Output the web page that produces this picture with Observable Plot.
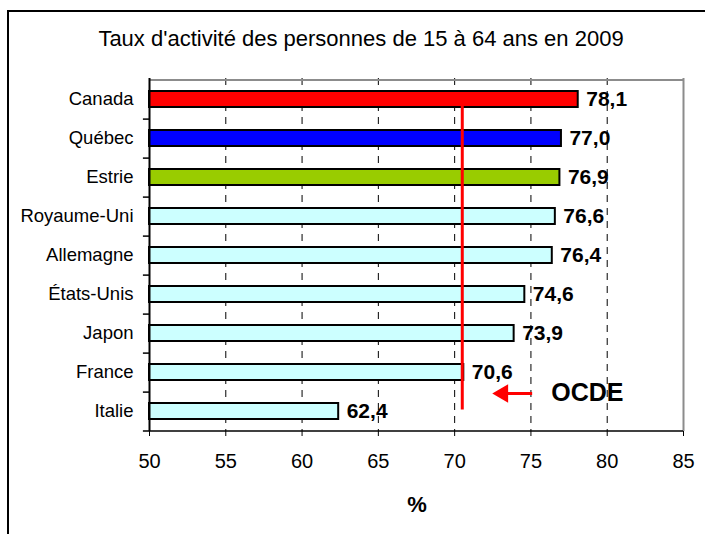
<!DOCTYPE html>
<html><head><meta charset="utf-8">
<script src="https://cdn.jsdelivr.net/npm/d3@7"></script>
<script src="https://cdn.jsdelivr.net/npm/@observablehq/plot@0.6"></script>
<style>
body{margin:0;background:#fff;font-family:"Liberation Sans",Arial,sans-serif;}
#wrap{position:relative;width:705px;height:534px;overflow:hidden;background:#fff;}
#frame{position:absolute;left:7px;top:10px;width:800px;height:700px;border-left:2px solid #000;border-top:2px solid #000;}
#title{position:absolute;left:0;width:722px;top:28px;text-align:center;font-size:22px;line-height:1;color:#000;}
#xlabel{position:absolute;left:367px;width:100px;top:494px;text-align:center;font-size:22px;font-weight:bold;line-height:1;}
#chart{position:absolute;left:0;top:0;}
#chart svg{background:transparent !important;}
[aria-label^="y-axis"] text{font-size:18.5px;}
[aria-label^="x-axis"] text{font-size:20px;}
</style></head>
<body>
<div id="wrap">
  <div id="frame"></div>
  <div id="title">Taux d'activité des personnes de 15 à 64 ans en 2009</div>
  <div id="chart"></div>
  <div id="xlabel">%</div>
</div>
<script>
const categories = ["Canada","Québec","Estrie","Royaume-Uni","Allemagne","États-Unis","Japon","France","Italie"];
const values = [78.1, 77.0, 76.9, 76.6, 76.4, 74.6, 73.9, 70.6, 62.4];
const barColors = ["#ff0000","#0000ff","#99cc00","#ccffff","#ccffff","#ccffff","#ccffff","#ccffff","#ccffff"];
const xTicks = [50, 55, 60, 65, 70, 75, 80, 85];
const gridTicks = [55, 60, 65, 70, 75, 80];
const ocdeValue = 70.5;
const ocdeLabel = "OCDE";
// annotation anchors (in data units)
const arrowTail = 75.08, arrowHeadCenter = 73.16, ocdeTextX = 76.33;

const rows = categories.map((name, i) => ({name, value: values[i], color: barColors[i]}));
const W = 705, H = 534, mT = 78, mB = 103, mL = 149, mR = 22;
const step = (H - mT - mB) / categories.length;
const first = categories[0], last = categories[categories.length - 1];
const xmin = xTicks[0], xmax = xTicks[xTicks.length - 1];

const chart = Plot.plot({
  width: W, height: H,
  marginTop: mT, marginBottom: mB, marginLeft: mL, marginRight: mR,
  style: {background: "transparent", fontFamily: "'Liberation Sans', Arial, sans-serif", fontSize: "20px", color: "#000"},
  x: {domain: [xmin, xmax], ticks: xTicks, tickSize: 5, tickPadding: 17, label: null, tickFormat: d => String(d)},
  y: {domain: categories, paddingInner: 0.6, paddingOuter: 0.3, align: 0.5, tickSize: 0, tickPadding: 16, label: null},
  color: {type: "identity"},
  marks: [
    Plot.ruleX(gridTicks, {stroke: "#000", strokeWidth: 1, strokeDasharray: "7,6"}),
    Plot.barX(rows, {x1: xmin, x2: "value", y: "name", fill: "color", stroke: "#000", strokeWidth: 2}),
    Plot.ruleY([first], {x1: xmin, x2: xmax, dy: -step / 2, stroke: "#8c8c8c", strokeWidth: 2}),
    Plot.ruleX([xmax], {stroke: "#8c8c8c", strokeWidth: 2}),
    Plot.ruleX([xmin], {stroke: "#000", strokeWidth: 2}),
    Plot.ruleY(categories, {x1: xmin - 0.4, x2: (d, i) => i === categories.length - 1 ? xmax : xmin, dy: step / 2, stroke: "#000", strokeWidth: 1.5}),
    Plot.text(rows, {x: "value", y: "name", text: d => d.value.toFixed(1).replace(".", ","), dx: 8, textAnchor: "start", fontWeight: "bold", fontSize: 21, fill: "#000"}),
    Plot.link([ocdeValue], {x1: d => d, x2: d => d, y1: () => first, y2: () => last, dy: -2, stroke: "#ff0000", strokeWidth: 3}),
    Plot.link([0], {x1: () => arrowHeadCenter, x2: () => arrowTail, y1: () => last, y2: () => last, dy: -18, stroke: "#ff0000", strokeWidth: 3}),
    Plot.dot([0], {x: () => arrowHeadCenter, y: () => last, symbol: "triangle", r: 6.8, fill: "#ff0000", stroke: "none", rotate: -90, dy: -18}),
    Plot.text([ocdeLabel], {x: () => ocdeTextX, y: () => last, text: d => d, dy: -18.5, textAnchor: "start", fontWeight: "bold", fontSize: 25, fill: "#000"})
  ]
});
document.getElementById("chart").appendChild(chart);
</script>
</body></html>
